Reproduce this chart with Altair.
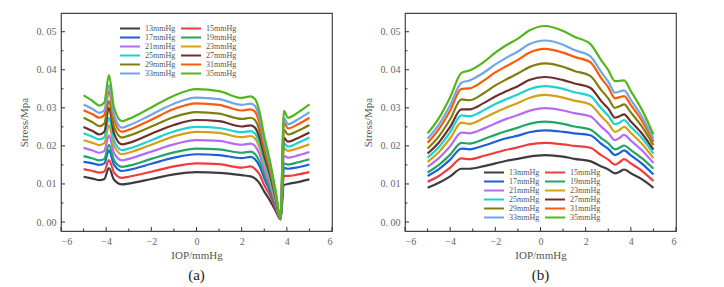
import altair as alt
import pandas as pd

pressures = ["13mmHg", "15mmHg", "17mmHg", "19mmHg", "21mmHg", "23mmHg",
             "25mmHg", "27mmHg", "29mmHg", "31mmHg", "33mmHg", "35mmHg"]
colors = ["#3d3d3d", "#f03c3c", "#1f5fd6", "#23a566", "#b56cf0", "#d4a017",
          "#1ed2d2", "#6e2f2f", "#7f7f10", "#ff5a0a", "#6ea6e6", "#55b51c"]

x_major = [-6, -4, -2, 0, 2, 4, 6]
x_minor = [-5, -3, -1, 1, 3, 5]
y_major = [0.0, 0.01, 0.02, 0.03, 0.04, 0.05]
y_minor = [0.005, 0.015, 0.025, 0.035, 0.045]

# ---- panel (a) ----
xa = [-5, -4.6, -4.3, -4.08, -3.88, -3.65, -3.3, -3.0, -2, -1, 0, 1, 2, 2.4, 2.6, 2.8,
      3.0, 3.25, 3.5, 3.72, 3.87, 4.05, 4.5, 5]
a13 = [.0119, .0114, .0110, .0113, .0142, .0111, .0099, .0101, .0113, .0125, .0131, .0129, .0123, .0120, .0114, .0101, .0080, .0057, .0030, .0007, .0097, .0100, .0105, .0112]
a15 = [.0139, .0134, .0130, .0133, .0163, .0130, .0116, .0119, .0132, .0146, .0154, .0152, .0143, .0146, .0139, .0124, .0097, .0070, .0036, .0007, .0121, .0121, .0125, .0131]
a17 = [.0158, .0154, .0150, .0154, .0188, .0150, .0134, .0137, .0153, .0169, .0178, .0176, .0168, .0171, .0164, .0146, .0115, .0082, .0043, .0008, .0142, .0140, .0144, .0151]
a19 = [.0173, .0167, .0162, .0166, .0203, .0162, .0145, .0148, .0166, .0183, .0193, .0191, .0182, .0185, .0178, .0158, .0125, .0089, .0046, .0008, .0154, .0151, .0157, .0165]
a21 = [.0195, .0188, .0182, .0187, .0228, .0181, .0162, .0166, .0185, .0204, .0215, .0213, .0203, .0206, .0199, .0177, .0139, .0100, .0052, .0008, .0174, .0169, .0175, .0184]
a23 = [.0215, .0208, .0202, .0207, .0254, .0200, .0178, .0182, .0203, .0225, .0237, .0234, .0223, .0226, .0219, .0195, .0153, .0110, .0057, .0009, .0194, .0187, .0194, .0204]
a25 = [.0233, .0224, .0217, .0223, .0274, .0214, .0189, .0193, .0215, .0238, .0250, .0247, .0236, .0239, .0232, .0206, .0162, .0116, .0060, .0009, .0207, .0198, .0208, .0222]
a27 = [.0250, .0239, .0230, .0237, .0300, .0232, .0204, .0208, .0232, .0255, .0268, .0265, .0251, .0254, .0247, .0220, .0173, .0124, .0064, .0009, .0221, .0211, .0221, .0235]
a29 = [.0274, .0262, .0252, .0259, .0318, .0250, .0222, .0227, .0251, .0276, .0289, .0285, .0271, .0274, .0267, .0238, .0187, .0134, .0069, .0010, .0243, .0230, .0240, .0255]
a31 = [.0294, .0283, .0274, .0281, .0344, .0268, .0237, .0242, .0269, .0297, .0312, .0308, .0293, .0296, .0289, .0257, .0202, .0145, .0075, .0010, .0261, .0246, .0257, .0274]
a33 = [.0309, .0297, .0287, .0294, .0360, .0280, .0248, .0254, .0282, .0311, .0327, .0323, .0308, .0311, .0304, .0271, .0213, .0152, .0079, .0011, .0273, .0257, .0270, .0289]
a35 = [.0333, .0318, .0306, .0314, .0386, .0300, .0265, .0271, .0301, .0332, .0349, .0344, .0326, .0330, .0322, .0287, .0225, .0161, .0084, .0011, .0292, .0274, .0288, .0309]

# ---- panel (b) ----
xb = [-5, -4.5, -4, -3.5, -3.15, -2.5, -2, -1.5, -1, -0.5, 0.2, 1, 1.5, 2.2, 2.7, 3.0,
      3.3, 3.5, 3.7, 4.0, 4.5, 5]
b13 = [.0090, .0103, .0120, .0140, .0140, .0147, .0154, .0161, .0166, .0172, .0176, .0172, .0166, .0160, .0146, .0138, .0128, .0132, .0138, .0128, .0112, .0090]
b15 = [.0106, .0121, .0143, .0167, .0165, .0174, .0182, .0190, .0196, .0204, .0208, .0204, .0200, .0195, .0175, .0164, .0151, .0157, .0165, .0154, .0134, .0108]
b17 = [.0121, .0139, .0164, .0193, .0191, .0201, .0211, .0220, .0227, .0236, .0241, .0237, .0233, .0228, .0205, .0192, .0176, .0181, .0188, .0175, .0153, .0125]
b19 = [.0130, .0150, .0177, .0208, .0206, .0218, .0229, .0239, .0248, .0258, .0264, .0258, .0251, .0243, .0220, .0207, .0191, .0195, .0201, .0189, .0167, .0140]
b21 = [.0145, .0168, .0199, .0235, .0233, .0246, .0259, .0271, .0281, .0292, .0299, .0293, .0286, .0278, .0250, .0234, .0215, .0221, .0229, .0214, .0188, .0155]
b23 = [.0158, .0184, .0220, .0261, .0258, .0273, .0288, .0301, .0313, .0326, .0334, .0327, .0319, .0309, .0277, .0259, .0237, .0242, .0250, .0234, .0205, .0168]
b25 = [.0169, .0197, .0236, .0280, .0278, .0294, .0310, .0323, .0335, .0349, .0357, .0350, .0341, .0331, .0298, .0279, .0257, .0261, .0268, .0250, .0220, .0180]
b27 = [.0180, .0209, .0250, .0296, .0296, .0313, .0330, .0344, .0357, .0373, .0381, .0373, .0364, .0353, .0317, .0298, .0274, .0278, .0283, .0264, .0232, .0190]
b29 = [.0193, .0225, .0270, .0322, .0320, .0339, .0359, .0375, .0390, .0407, .0417, .0408, .0397, .0384, .0346, .0325, .0300, .0304, .0309, .0288, .0250, .0202]
b31 = [.0208, .0244, .0293, .0350, .0351, .0372, .0393, .0410, .0426, .0445, .0455, .0445, .0434, .0420, .0377, .0354, .0325, .0328, .0331, .0307, .0265, .0211]
b33 = [.0219, .0256, .0307, .0366, .0372, .0393, .0414, .0432, .0448, .0467, .0477, .0466, .0452, .0436, .0393, .0369, .0340, .0343, .0346, .0321, .0276, .0219]
b35 = [.0233, .0273, .0328, .0392, .0398, .0421, .0445, .0465, .0482, .0503, .0515, .0502, .0487, .0468, .0424, .0399, .0370, .0371, .0372, .0344, .0294, .0230]

series_a = [a13, a15, a17, a19, a21, a23, a25, a27, a29, a31, a33, a35]
series_b = [b13, b15, b17, b19, b21, b23, b25, b27, b29, b31, b33, b35]

W, H = 271, 218
FONT = "Liberation Serif"


def panel(xs, series, caption, lx, ly):
    rows = []
    for name, vals in zip(pressures, series):
        for x, v in zip(xs, vals):
            rows.append({"iop": x, "stress": v, "series": name})
    df = pd.DataFrame(rows)

    xscale = alt.Scale(domain=[-6, 6], nice=False, zero=False)
    yscale = alt.Scale(domain=[-0.00236, 0.05492], nice=False, zero=False)
    X = alt.X("iop:Q", scale=xscale, title="IOP/mmHg",
              axis=alt.Axis(values=x_major, format="d", labelPadding=5, titlePadding=3))
    Y = alt.Y("stress:Q", scale=yscale, title="Stress/Mpa",
              axis=alt.Axis(values=y_major,
                            labelExpr="replace(format(datum.value, '.2f'), '.', '. ')",
                            labelPadding=5, titlePadding=7))

    lines = alt.Chart(df).mark_line(strokeWidth=2.2, interpolate="monotone").encode(
        x=X, y=Y,
        color=alt.Color("series:N", sort=pressures,
                        scale=alt.Scale(domain=pressures, range=colors),
                        legend=alt.Legend(title=None, orient="none", legendX=lx, legendY=ly,
                                          direction="horizontal",
                                          columns=2, symbolType="M-2.5,0H2.5", symbolSize=64,
                                          symbolStrokeWidth=2, labelFont=FONT, labelFontSize=8,
                                          labelColor="#555", rowPadding=0, columnPadding=1,
                                          labelOffset=10, padding=0)),
        detail="series:N",
    )

    xt_major = alt.Chart(pd.DataFrame({"iop": x_major})).mark_rule(color="#333").encode(
        x=X, y=alt.value(H), y2=alt.value(H - 4))
    xt_minor = alt.Chart(pd.DataFrame({"iop": x_minor})).mark_rule(color="#333").encode(
        x=X, y=alt.value(H), y2=alt.value(H - 2.5))
    yt_major = alt.Chart(pd.DataFrame({"stress": y_major})).mark_rule(color="#333").encode(
        y=Y, x=alt.value(0), x2=alt.value(4))
    yt_minor = alt.Chart(pd.DataFrame({"stress": y_minor})).mark_rule(color="#333").encode(
        y=Y, x=alt.value(0), x2=alt.value(2.5))

    return alt.layer(lines, xt_major, xt_minor, yt_major, yt_minor).properties(
        width=W, height=H,
        title=alt.TitleParams(caption, orient="bottom", fontSize=15, font=FONT,
                              fontWeight="normal", color="#222", offset=8),
    )


pa = panel(xa, series_a, "(a)", 64, 10.5)
pb = panel(xb, series_b, "(b)", 84, 154.5)

chart = alt.hconcat(pa, pb, spacing=27).resolve_scale(color="independent").properties(
    padding={"left": 9, "top": 4, "right": 0, "bottom": 0}
).configure(font=FONT).configure_view(stroke="#444", strokeWidth=1.2).configure_axis(
    domain=False, ticks=False, grid=False,
    labelFont=FONT, labelFontSize=10, labelColor="#666",
    titleFont=FONT, titleFontSize=11, titleColor="#555", titleFontWeight="normal",
)

chart.save("out.html", embed_options={"renderer": "svg", "actions": False})
